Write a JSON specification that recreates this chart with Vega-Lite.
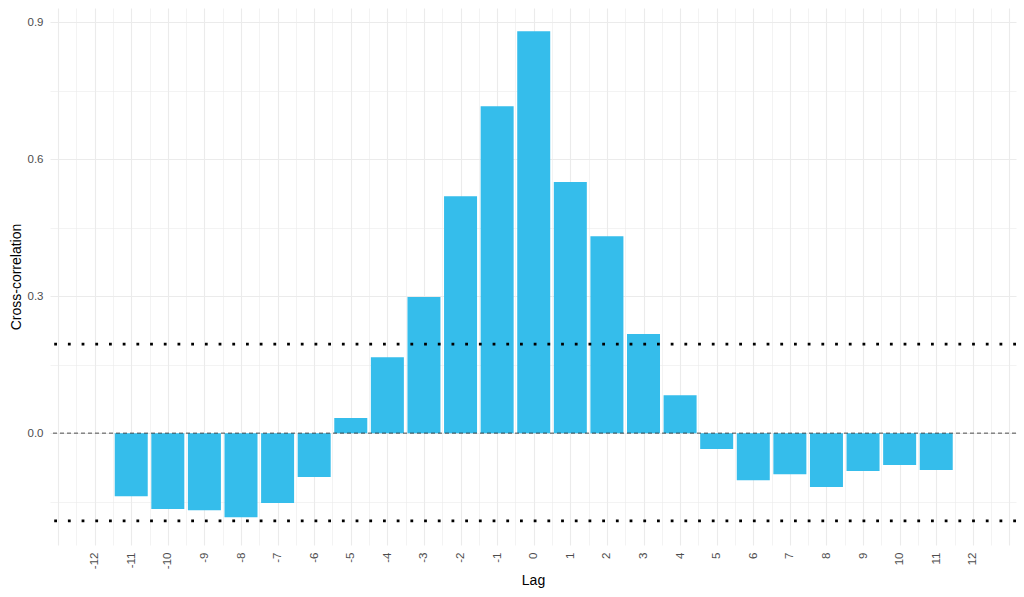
{
  "$schema": "https://vega.github.io/schema/vega-lite/v6.json",
  "autosize": "none",
  "width": 966,
  "height": 537,
  "padding": {"left": 50, "top": 8, "right": 8, "bottom": 52},
  "background": "white",
  "datasets": {
    "ccf": [
      {"lag": -11, "value": -0.138},
      {"lag": -10, "value": -0.166},
      {"lag": -9, "value": -0.169},
      {"lag": -8, "value": -0.184},
      {"lag": -7, "value": -0.153},
      {"lag": -6, "value": -0.096},
      {"lag": -5, "value": 0.033},
      {"lag": -4, "value": 0.166},
      {"lag": -3, "value": 0.298},
      {"lag": -2, "value": 0.519},
      {"lag": -1, "value": 0.716},
      {"lag": 0, "value": 0.880},
      {"lag": 1, "value": 0.550},
      {"lag": 2, "value": 0.431},
      {"lag": 3, "value": 0.217},
      {"lag": 4, "value": 0.083},
      {"lag": 5, "value": -0.035},
      {"lag": 6, "value": -0.103},
      {"lag": 7, "value": -0.090},
      {"lag": 8, "value": -0.118},
      {"lag": 9, "value": -0.083},
      {"lag": 10, "value": -0.070},
      {"lag": 11, "value": -0.081}
    ],
    "bounds": [{"value": 0.195}, {"value": -0.192}],
    "zero": [{"value": 0}]
  },
  "layer": [
    {
      "data": {"name": "ccf"},
      "mark": {"type": "bar", "size": 33, "color": "#35BDEB"},
      "encoding": {
        "x": {
          "field": "lag",
          "type": "quantitative",
          "title": "Lag",
          "scale": {"domain": [-13.22, 13.18], "nice": false, "zero": false, "padding": 0},
          "axis": {
            "values": [-13, -12.5, -12, -11.5, -11, -10.5, -10, -9.5, -9, -8.5, -8, -7.5, -7, -6.5, -6, -5.5, -5, -4.5, -4, -3.5, -3, -2.5, -2, -1.5, -1, -0.5, 0, 0.5, 1, 1.5, 2, 2.5, 3, 3.5, 4, 4.5, 5, 5.5, 6, 6.5, 7, 7.5, 8, 8.5, 9, 9.5, 10, 10.5, 11, 11.5, 12, 12.5, 13],
            "labelExpr": "datum.value % 1 == 0 && abs(datum.value) <= 12 ? toString(datum.value) : ''",
            "labelAngle": -90,
            "labelPadding": 7,
            "labelFontSize": 11.5,
            "labelColor": "#4D4D4D",
            "labelFont": "Liberation Sans",
            "labelOverlap": false,
            "labelBound": false,
            "labelFlush": false,
            "ticks": false,
            "domain": false,
            "grid": true,
            "gridColor": "#EBEBEB",
            "gridWidth": {"condition": {"test": "datum.value % 1 != 0", "value": 0.6}, "value": 1.1},
            "titleFont": "Liberation Sans",
            "titleFontSize": 14,
            "titleFontWeight": "normal",
            "titleColor": "black",
            "titlePadding": 5
          }
        },
        "y": {
          "field": "value",
          "type": "quantitative",
          "title": "Cross-correlation",
          "scale": {"domain": [-0.245, 0.931], "nice": false, "zero": false, "padding": 0},
          "axis": {
            "values": [-0.15, 0, 0.15, 0.3, 0.45, 0.6, 0.75, 0.9],
            "labelExpr": "round(datum.value * 100) % 30 == 0 ? format(datum.value, '.1f') : ''",
            "labelPadding": 7,
            "labelFontSize": 11.5,
            "labelColor": "#4D4D4D",
            "labelFont": "Liberation Sans",
            "labelOverlap": false,
            "labelBound": false,
            "labelFlush": false,
            "ticks": false,
            "domain": false,
            "grid": true,
            "gridColor": "#EBEBEB",
            "gridWidth": {"condition": {"test": "round(datum.value * 100) % 30 != 0", "value": 0.6}, "value": 1.1},
            "titleFont": "Liberation Sans",
            "titleFontSize": 14,
            "titleFontWeight": "normal",
            "titleColor": "black",
            "titlePadding": 4
          }
        }
      }
    },
    {
      "data": {"name": "zero"},
      "mark": {"type": "rule", "color": "#222222", "strokeWidth": 0.8, "strokeDash": [4, 3]},
      "encoding": {
        "y": {"field": "value", "type": "quantitative", "title": "Cross-correlation"}
      }
    },
    {
      "data": {"name": "bounds"},
      "mark": {"type": "rule", "color": "black", "strokeWidth": 2.8, "strokeDash": [2.8, 10.9], "strokeCap": "butt"},
      "encoding": {
        "y": {"field": "value", "type": "quantitative", "title": "Cross-correlation"}
      }
    }
  ],
  "config": {
    "view": {"stroke": null}
  }
}
